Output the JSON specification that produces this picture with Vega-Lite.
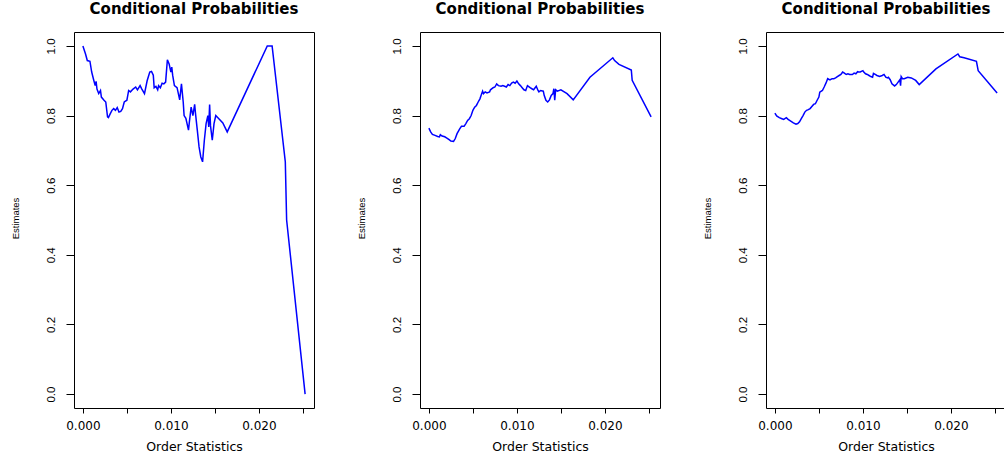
{
  "$schema": "https://vega.github.io/schema/vega-lite/v6.json",
  "autosize": {"type": "pad"},
  "padding": {"left": 9, "top": 1, "right": 0, "bottom": 0},
  "background": "white",
  "bounds": "flush",
  "spacing": 106,
  "datasets": {
    "p1": [
      {"x": 0, "y": 1.0}, {"x": 0.0003, "y": 0.977}, {"x": 0.0005, "y": 0.958}, {"x": 0.0008, "y": 0.956},
      {"x": 0.001, "y": 0.925}, {"x": 0.00125, "y": 0.9}, {"x": 0.0014, "y": 0.886}, {"x": 0.0015, "y": 0.898},
      {"x": 0.0016, "y": 0.876}, {"x": 0.0018, "y": 0.863}, {"x": 0.002, "y": 0.872}, {"x": 0.0021, "y": 0.853},
      {"x": 0.0024, "y": 0.844}, {"x": 0.0026, "y": 0.839}, {"x": 0.0028, "y": 0.796}, {"x": 0.0029, "y": 0.794},
      {"x": 0.0031, "y": 0.805}, {"x": 0.0033, "y": 0.815}, {"x": 0.0035, "y": 0.82}, {"x": 0.0037, "y": 0.815},
      {"x": 0.0039, "y": 0.823}, {"x": 0.0041, "y": 0.81}, {"x": 0.0043, "y": 0.812}, {"x": 0.0045, "y": 0.82},
      {"x": 0.0047, "y": 0.839}, {"x": 0.005, "y": 0.844}, {"x": 0.0052, "y": 0.872}, {"x": 0.0054, "y": 0.868},
      {"x": 0.0057, "y": 0.876}, {"x": 0.006, "y": 0.882}, {"x": 0.0062, "y": 0.874}, {"x": 0.0065, "y": 0.886},
      {"x": 0.0067, "y": 0.876}, {"x": 0.007, "y": 0.863}, {"x": 0.0073, "y": 0.9}, {"x": 0.0076, "y": 0.925},
      {"x": 0.0078, "y": 0.927}, {"x": 0.008, "y": 0.916}, {"x": 0.0081, "y": 0.88}, {"x": 0.0083, "y": 0.884},
      {"x": 0.0085, "y": 0.874}, {"x": 0.0086, "y": 0.886}, {"x": 0.0088, "y": 0.88}, {"x": 0.009, "y": 0.893},
      {"x": 0.0092, "y": 0.891}, {"x": 0.0094, "y": 0.896}, {"x": 0.0096, "y": 0.96}, {"x": 0.0098, "y": 0.948},
      {"x": 0.01, "y": 0.925}, {"x": 0.0101, "y": 0.939}, {"x": 0.0102, "y": 0.916}, {"x": 0.0104, "y": 0.886},
      {"x": 0.0107, "y": 0.88}, {"x": 0.011, "y": 0.845}, {"x": 0.0112, "y": 0.891}, {"x": 0.0114, "y": 0.839},
      {"x": 0.0115, "y": 0.8}, {"x": 0.0117, "y": 0.792}, {"x": 0.012, "y": 0.758}, {"x": 0.0121, "y": 0.782},
      {"x": 0.0123, "y": 0.824}, {"x": 0.0125, "y": 0.8}, {"x": 0.0127, "y": 0.832}, {"x": 0.0128, "y": 0.805},
      {"x": 0.013, "y": 0.758}, {"x": 0.0132, "y": 0.71}, {"x": 0.0134, "y": 0.681}, {"x": 0.0136, "y": 0.667},
      {"x": 0.0138, "y": 0.729}, {"x": 0.014, "y": 0.777}, {"x": 0.0142, "y": 0.8}, {"x": 0.0143, "y": 0.767},
      {"x": 0.0144, "y": 0.832}, {"x": 0.0145, "y": 0.771}, {"x": 0.0147, "y": 0.729}, {"x": 0.0149, "y": 0.777},
      {"x": 0.0151, "y": 0.8}, {"x": 0.0159, "y": 0.779}, {"x": 0.0164, "y": 0.753}, {"x": 0.02095, "y": 1.0},
      {"x": 0.0215, "y": 1.0}, {"x": 0.023, "y": 0.667}, {"x": 0.02315, "y": 0.5}, {"x": 0.02525, "y": 0.0}
    ],
    "p2": [
      {"x": 0, "y": 0.764}, {"x": 0.0002, "y": 0.753}, {"x": 0.0004, "y": 0.746}, {"x": 0.0007, "y": 0.743},
      {"x": 0.001, "y": 0.74}, {"x": 0.0012, "y": 0.739}, {"x": 0.0013, "y": 0.745}, {"x": 0.0015, "y": 0.741},
      {"x": 0.0018, "y": 0.739}, {"x": 0.002, "y": 0.736}, {"x": 0.0023, "y": 0.731}, {"x": 0.0025, "y": 0.727},
      {"x": 0.0028, "y": 0.726}, {"x": 0.003, "y": 0.734}, {"x": 0.0032, "y": 0.748}, {"x": 0.0035, "y": 0.762},
      {"x": 0.0037, "y": 0.769}, {"x": 0.004, "y": 0.769}, {"x": 0.0042, "y": 0.777}, {"x": 0.0044, "y": 0.786},
      {"x": 0.0046, "y": 0.791}, {"x": 0.0048, "y": 0.8}, {"x": 0.005, "y": 0.815}, {"x": 0.0052, "y": 0.824},
      {"x": 0.0054, "y": 0.829}, {"x": 0.0056, "y": 0.839}, {"x": 0.0058, "y": 0.848}, {"x": 0.006, "y": 0.863},
      {"x": 0.0061, "y": 0.87}, {"x": 0.0062, "y": 0.863}, {"x": 0.0064, "y": 0.868}, {"x": 0.0066, "y": 0.865},
      {"x": 0.0069, "y": 0.868}, {"x": 0.007, "y": 0.874}, {"x": 0.0073, "y": 0.88}, {"x": 0.0075, "y": 0.882},
      {"x": 0.0077, "y": 0.891}, {"x": 0.0079, "y": 0.886}, {"x": 0.0082, "y": 0.884}, {"x": 0.0084, "y": 0.886},
      {"x": 0.0086, "y": 0.884}, {"x": 0.0088, "y": 0.882}, {"x": 0.009, "y": 0.889}, {"x": 0.0092, "y": 0.886},
      {"x": 0.0094, "y": 0.893}, {"x": 0.0096, "y": 0.896}, {"x": 0.0098, "y": 0.893}, {"x": 0.01, "y": 0.899},
      {"x": 0.0102, "y": 0.891}, {"x": 0.0104, "y": 0.886}, {"x": 0.0106, "y": 0.88}, {"x": 0.0108, "y": 0.874},
      {"x": 0.011, "y": 0.872}, {"x": 0.0112, "y": 0.886}, {"x": 0.0115, "y": 0.88}, {"x": 0.0117, "y": 0.877},
      {"x": 0.0119, "y": 0.874}, {"x": 0.0122, "y": 0.884}, {"x": 0.0124, "y": 0.872}, {"x": 0.0125, "y": 0.868},
      {"x": 0.0127, "y": 0.872}, {"x": 0.013, "y": 0.87}, {"x": 0.0131, "y": 0.858}, {"x": 0.0133, "y": 0.844},
      {"x": 0.0135, "y": 0.839}, {"x": 0.0137, "y": 0.845}, {"x": 0.0139, "y": 0.858}, {"x": 0.0141, "y": 0.863},
      {"x": 0.0142, "y": 0.877}, {"x": 0.0143, "y": 0.844}, {"x": 0.0144, "y": 0.874}, {"x": 0.0146, "y": 0.87},
      {"x": 0.015, "y": 0.874}, {"x": 0.0157, "y": 0.863}, {"x": 0.0164, "y": 0.845}, {"x": 0.0183, "y": 0.91},
      {"x": 0.0209, "y": 0.966}, {"x": 0.0211, "y": 0.958}, {"x": 0.0216, "y": 0.947}, {"x": 0.023, "y": 0.931},
      {"x": 0.0231, "y": 0.901}, {"x": 0.02525, "y": 0.796}
    ],
    "p3": [
      {"x": 0, "y": 0.807}, {"x": 0.0002, "y": 0.799}, {"x": 0.0005, "y": 0.794}, {"x": 0.0008, "y": 0.791},
      {"x": 0.001, "y": 0.789}, {"x": 0.0013, "y": 0.794}, {"x": 0.0015, "y": 0.789}, {"x": 0.0018, "y": 0.784},
      {"x": 0.0021, "y": 0.779}, {"x": 0.0024, "y": 0.775}, {"x": 0.0026, "y": 0.777}, {"x": 0.0028, "y": 0.782},
      {"x": 0.003, "y": 0.791}, {"x": 0.0032, "y": 0.8}, {"x": 0.0034, "y": 0.81}, {"x": 0.0036, "y": 0.815},
      {"x": 0.0038, "y": 0.817}, {"x": 0.004, "y": 0.82}, {"x": 0.0042, "y": 0.826}, {"x": 0.0044, "y": 0.832},
      {"x": 0.0046, "y": 0.834}, {"x": 0.0048, "y": 0.844}, {"x": 0.005, "y": 0.853}, {"x": 0.0051, "y": 0.867},
      {"x": 0.0054, "y": 0.872}, {"x": 0.0056, "y": 0.882}, {"x": 0.0058, "y": 0.893}, {"x": 0.006, "y": 0.906},
      {"x": 0.0062, "y": 0.903}, {"x": 0.0063, "y": 0.903}, {"x": 0.0065, "y": 0.906}, {"x": 0.0067, "y": 0.906},
      {"x": 0.0069, "y": 0.908}, {"x": 0.0071, "y": 0.912}, {"x": 0.0073, "y": 0.915}, {"x": 0.0075, "y": 0.918},
      {"x": 0.0077, "y": 0.925}, {"x": 0.0079, "y": 0.922}, {"x": 0.0081, "y": 0.918}, {"x": 0.0083, "y": 0.92},
      {"x": 0.0085, "y": 0.918}, {"x": 0.0088, "y": 0.918}, {"x": 0.009, "y": 0.922}, {"x": 0.0092, "y": 0.92},
      {"x": 0.0094, "y": 0.926}, {"x": 0.0095, "y": 0.925}, {"x": 0.0097, "y": 0.925}, {"x": 0.01, "y": 0.929},
      {"x": 0.0101, "y": 0.925}, {"x": 0.0103, "y": 0.92}, {"x": 0.0105, "y": 0.918}, {"x": 0.0107, "y": 0.915},
      {"x": 0.0109, "y": 0.912}, {"x": 0.0111, "y": 0.91}, {"x": 0.0112, "y": 0.921}, {"x": 0.0114, "y": 0.918},
      {"x": 0.0116, "y": 0.915}, {"x": 0.0119, "y": 0.912}, {"x": 0.0122, "y": 0.915}, {"x": 0.0124, "y": 0.918},
      {"x": 0.0126, "y": 0.91}, {"x": 0.0128, "y": 0.908}, {"x": 0.0129, "y": 0.91}, {"x": 0.0131, "y": 0.903},
      {"x": 0.0133, "y": 0.891}, {"x": 0.0136, "y": 0.885}, {"x": 0.0138, "y": 0.889}, {"x": 0.014, "y": 0.896},
      {"x": 0.0142, "y": 0.903}, {"x": 0.01428, "y": 0.886}, {"x": 0.01435, "y": 0.912}, {"x": 0.0145, "y": 0.906},
      {"x": 0.0147, "y": 0.906}, {"x": 0.0151, "y": 0.91}, {"x": 0.0155, "y": 0.908}, {"x": 0.016, "y": 0.901},
      {"x": 0.0164, "y": 0.889}, {"x": 0.0183, "y": 0.934}, {"x": 0.0208, "y": 0.977}, {"x": 0.021, "y": 0.969},
      {"x": 0.0215, "y": 0.966}, {"x": 0.0229, "y": 0.956}, {"x": 0.0231, "y": 0.929}, {"x": 0.02525, "y": 0.865}
    ]
  },
  "config": {
    "view": {"stroke": "black", "strokeWidth": 1},
    "title": {
      "font": "DejaVu Sans",
      "fontSize": 15,
      "fontWeight": "bold",
      "color": "black",
      "anchor": "middle",
      "frame": "group",
      "baseline": "alphabetic",
      "offset": 15
    },
    "axisX": {
      "domain": false,
      "grid": false,
      "ticks": true,
      "tickSize": 5,
      "tickColor": "black",
      "tickWidth": 1,
      "labelFont": "DejaVu Sans",
      "labelFontSize": 12,
      "labelColor": "black",
      "labelPadding": 7,
      "labelFlush": false,
      "labelOverlap": false,
      "titleFont": "DejaVu Sans",
      "titleFontSize": 12.5,
      "titleFontWeight": "normal",
      "titleColor": "black",
      "titleBaseline": "alphabetic",
      "titleY": 42
    },
    "axisY": {
      "domain": false,
      "grid": false,
      "ticks": true,
      "tickSize": 8,
      "tickColor": "black",
      "tickWidth": 1,
      "labelAngle": -90,
      "labelAlign": "center",
      "labelBaseline": "bottom",
      "labelFont": "Liberation Sans",
      "labelFontSize": 11.5,
      "labelColor": "black",
      "labelPadding": 10,
      "labelFlush": false,
      "labelOverlap": false,
      "titleFont": "Liberation Sans",
      "titleFontSize": 9.5,
      "titleFontWeight": "normal",
      "titleColor": "black",
      "titleAngle": -90,
      "titleAlign": "center",
      "titleBaseline": "middle",
      "titleX": -59,
      "titleY": 186
    }
  },
  "hconcat": [
    {
      "width": 240,
      "height": 376,
      "title": "Conditional Probabilities",
      "data": {"name": "p1"},
      "mark": {"type": "line", "color": "#0000FF", "strokeWidth": 1.5, "clip": true},
      "encoding": {
        "x": {"field": "x", "type": "quantitative", "scale": {"domain": [-0.00101, 0.02626], "nice": false, "zero": false},
              "axis": {"title": "Order Statistics", "values": [0, 0.005, 0.01, 0.015, 0.02, 0.025],
                       "labelExpr": "(round(datum.value * 1000) % 10 == 0) ? format(datum.value, '.3f') : ''"}},
        "y": {"field": "y", "type": "quantitative", "scale": {"domain": [-0.04, 1.04], "nice": false, "zero": false},
              "axis": {"title": "Estimates", "values": [0, 0.2, 0.4, 0.6, 0.8, 1.0], "format": ".1f"}}
      }
    },
    {
      "width": 240,
      "height": 376,
      "title": "Conditional Probabilities",
      "data": {"name": "p2"},
      "mark": {"type": "line", "color": "#0000FF", "strokeWidth": 1.5, "clip": true},
      "encoding": {
        "x": {"field": "x", "type": "quantitative", "scale": {"domain": [-0.00101, 0.02626], "nice": false, "zero": false},
              "axis": {"title": "Order Statistics", "values": [0, 0.005, 0.01, 0.015, 0.02, 0.025],
                       "labelExpr": "(round(datum.value * 1000) % 10 == 0) ? format(datum.value, '.3f') : ''"}},
        "y": {"field": "y", "type": "quantitative", "scale": {"domain": [-0.04, 1.04], "nice": false, "zero": false},
              "axis": {"title": "Estimates", "values": [0, 0.2, 0.4, 0.6, 0.8, 1.0], "format": ".1f"}}
      }
    },
    {
      "width": 240,
      "height": 376,
      "title": "Conditional Probabilities",
      "data": {"name": "p3"},
      "mark": {"type": "line", "color": "#0000FF", "strokeWidth": 1.5, "clip": true},
      "encoding": {
        "x": {"field": "x", "type": "quantitative", "scale": {"domain": [-0.00101, 0.02626], "nice": false, "zero": false},
              "axis": {"title": "Order Statistics", "values": [0, 0.005, 0.01, 0.015, 0.02, 0.025],
                       "labelExpr": "(round(datum.value * 1000) % 10 == 0) ? format(datum.value, '.3f') : ''"}},
        "y": {"field": "y", "type": "quantitative", "scale": {"domain": [-0.04, 1.04], "nice": false, "zero": false},
              "axis": {"title": "Estimates", "values": [0, 0.2, 0.4, 0.6, 0.8, 1.0], "format": ".1f"}}
      }
    }
  ]
}
